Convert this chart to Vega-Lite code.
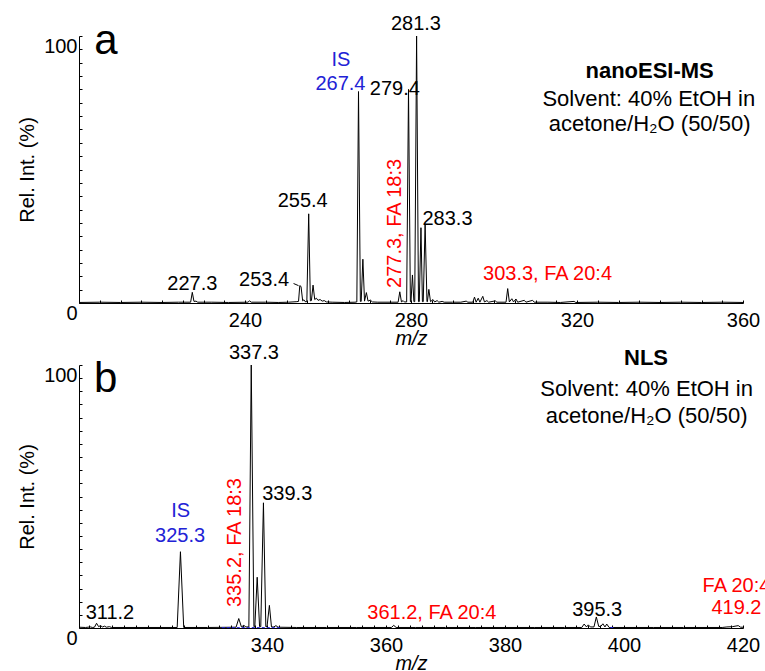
{
  "$schema": "https://vega.github.io/schema/vega-lite/v6.json",
  "background": "white",
  "padding": {"left": 17, "top": 13, "right": 0, "bottom": 0},
  "spacing": 62,
  "bounds": "flush",
  "config": {
    "view": {"stroke": null},
    "font": "Liberation Sans",
    "axis": {"domainColor": "black", "tickColor": "black", "labelColor": "black", "titleColor": "black", "labelFont": "Liberation Sans", "titleFont": "Liberation Sans", "labelFontSize": 20, "titleFontSize": 20, "titleFontWeight": "normal", "grid": false, "tickSize": -3, "domainWidth": 1, "tickWidth": 1, "labelOverlap": false, "labelFlush": false},
    "text": {"font": "Liberation Sans", "fontSize": 20}
  },
  "datasets": {
    "specA": [
      {"mz":200,"i":0.2},{"mz":205,"i":0.3},{"mz":210,"i":0.2},{"mz":215,"i":0.3},{"mz":220,"i":0.2},{"mz":224,"i":0.3},{"mz":226.9,"i":0.3},{"mz":227.3,"i":4},{"mz":227.7,"i":0.6},{"mz":228.2,"i":0.7},{"mz":228.6,"i":0.3},{"mz":232,"i":0.3},{"mz":236,"i":0.2},{"mz":240.7,"i":0.3},{"mz":241.1,"i":0.8},{"mz":241.5,"i":0.3},{"mz":245,"i":0.3},{"mz":248,"i":0.2},{"mz":250.5,"i":0.3},{"mz":252.5,"i":0.5},{"mz":252.9,"i":0.6},{"mz":253.2,"i":6.5},{"mz":253.5,"i":6.2},{"mz":253.9,"i":0.8},{"mz":254.2,"i":1.2},{"mz":254.5,"i":0.5},{"mz":254.9,"i":0.5},{"mz":255.35,"i":33.4},{"mz":255.75,"i":0.8},{"mz":256.0,"i":0.9},{"mz":256.4,"i":6.7},{"mz":256.8,"i":1.3},{"mz":257.2,"i":1.8},{"mz":257.6,"i":1.0},{"mz":258.1,"i":1.3},{"mz":258.6,"i":0.7},{"mz":259.1,"i":0.9},{"mz":259.6,"i":0.4},{"mz":261,"i":0.3},{"mz":264,"i":0.2},{"mz":266.5,"i":0.3},{"mz":266.95,"i":0.4},{"mz":267.35,"i":79.2},{"mz":267.8,"i":0.6},{"mz":268.0,"i":0.6},{"mz":268.4,"i":16.4},{"mz":268.8,"i":0.7},{"mz":269.25,"i":3.9},{"mz":269.65,"i":0.7},{"mz":270.2,"i":1.1},{"mz":270.7,"i":0.4},{"mz":272,"i":0.3},{"mz":275,"i":0.3},{"mz":276.9,"i":0.3},{"mz":277.3,"i":4.2},{"mz":277.7,"i":0.4},{"mz":278.1,"i":0.9},{"mz":278.4,"i":0.4},{"mz":278.95,"i":0.4},{"mz":279.4,"i":80},{"mz":279.85,"i":0.5},{"mz":280.0,"i":0.5},{"mz":280.35,"i":10.5},{"mz":280.7,"i":0.5},{"mz":280.9,"i":0.5},{"mz":281.35,"i":100},{"mz":281.8,"i":0.5},{"mz":282.0,"i":0.5},{"mz":282.4,"i":28.2},{"mz":282.75,"i":0.5},{"mz":282.95,"i":0.5},{"mz":283.4,"i":29.5},{"mz":283.85,"i":0.5},{"mz":283.95,"i":0.5},{"mz":284.3,"i":5.1},{"mz":284.7,"i":0.5},{"mz":285.3,"i":1.3},{"mz":285.7,"i":0.4},{"mz":286.3,"i":0.9},{"mz":286.7,"i":0.3},{"mz":287.5,"i":0.6},{"mz":288,"i":0.3},{"mz":290,"i":0.3},{"mz":292,"i":0.3},{"mz":293.3,"i":0.7},{"mz":293.7,"i":0.3},{"mz":294.9,"i":0.3},{"mz":295.3,"i":2.2},{"mz":295.7,"i":0.3},{"mz":296.2,"i":1.8},{"mz":296.6,"i":0.3},{"mz":297.3,"i":2.5},{"mz":297.7,"i":0.4},{"mz":298.3,"i":0.9},{"mz":298.7,"i":0.3},{"mz":300.3,"i":0.8},{"mz":300.7,"i":0.3},{"mz":302.9,"i":0.3},{"mz":303.3,"i":5.4},{"mz":303.7,"i":0.4},{"mz":304.3,"i":1.6},{"mz":304.7,"i":0.4},{"mz":305.3,"i":1.5},{"mz":305.7,"i":0.3},{"mz":307.3,"i":1.0},{"mz":307.7,"i":0.3},{"mz":309.3,"i":1.0},{"mz":309.7,"i":0.3},{"mz":313,"i":0.3},{"mz":316,"i":0.2},{"mz":319.3,"i":0.6},{"mz":319.7,"i":0.2},{"mz":325,"i":0.3},{"mz":330,"i":0.2},{"mz":335,"i":0.3},{"mz":340,"i":0.2},{"mz":345,"i":0.3},{"mz":350,"i":0.2},{"mz":355,"i":0.3},{"mz":360,"i":0.2}
    ],
    "specB": [
      {"mz":308.4,"i":0.3},{"mz":309.5,"i":0.2},{"mz":310.3,"i":0.4},{"mz":310.7,"i":0.2},{"mz":311.0,"i":0.3},{"mz":311.35,"i":1.8},{"mz":311.7,"i":0.5},{"mz":312.0,"i":0.9},{"mz":312.35,"i":0.4},{"mz":312.7,"i":0.7},{"mz":313.0,"i":0.3},{"mz":313.5,"i":0.5},{"mz":313.9,"i":0.2},{"mz":316,"i":0.2},{"mz":320,"i":0.2},{"mz":324.9,"i":0.2},{"mz":325.45,"i":29},{"mz":326.0,"i":0.2},{"mz":330,"i":0.2},{"mz":334.8,"i":0.3},{"mz":335.25,"i":3.6},{"mz":335.7,"i":0.4},{"mz":336.1,"i":1.0},{"mz":336.45,"i":0.4},{"mz":336.95,"i":0.4},{"mz":337.35,"i":100},{"mz":337.8,"i":0.5},{"mz":337.95,"i":0.5},{"mz":338.35,"i":19.3},{"mz":338.75,"i":0.5},{"mz":338.95,"i":0.5},{"mz":339.4,"i":47.6},{"mz":339.8,"i":0.5},{"mz":340.0,"i":0.5},{"mz":340.4,"i":8.6},{"mz":340.75,"i":0.4},{"mz":341.15,"i":0.4},{"mz":341.5,"i":0.9},{"mz":341.85,"i":0.3},{"mz":345,"i":0.2},{"mz":350,"i":0.2},{"mz":355,"i":0.2},{"mz":360.9,"i":0.2},{"mz":361.3,"i":1.0},{"mz":361.7,"i":0.2},{"mz":365,"i":0.2},{"mz":370,"i":0.2},{"mz":375,"i":0.2},{"mz":380,"i":0.2},{"mz":385,"i":0.2},{"mz":390,"i":0.2},{"mz":392.9,"i":0.2},{"mz":393.3,"i":1.5},{"mz":393.7,"i":0.4},{"mz":394.0,"i":1.2},{"mz":394.35,"i":0.4},{"mz":394.95,"i":0.4},{"mz":395.35,"i":4.2},{"mz":395.75,"i":0.6},{"mz":396.1,"i":0.6},{"mz":396.45,"i":1.6},{"mz":396.8,"i":0.4},{"mz":397.1,"i":1.5},{"mz":397.5,"i":0.2},{"mz":400,"i":0.2},{"mz":405,"i":0.2},{"mz":410,"i":0.2},{"mz":416.5,"i":0.2},{"mz":417.3,"i":0.4},{"mz":418.2,"i":0.5},{"mz":419.2,"i":0.9},{"mz":419.6,"i":0.3},{"mz":420,"i":0.3}
    ],
    "blueB": [
      {"mz":332.4,"i":0.15,"s":"a"},{"mz":342.5,"i":0.15,"s":"a"},{"mz":397.7,"i":0.2,"s":"b"},{"mz":398.2,"i":0.2,"s":"b"}
    ],
    "leadA": [
      {"mz":251.7,"i":7.3},{"mz":252.9,"i":6.5}
    ],
    "labA": [
      {"mz":227.3,"i":7.1,"t":"227.3","kind":"peak"},
      {"mz":244.6,"i":8.6,"t":"253.4","kind":"peak"},
      {"mz":253.9,"i":38.2,"t":"255.4","kind":"peak"},
      {"mz":263.1,"i":91,"t":"IS","kind":"IS"},
      {"mz":263.0,"i":82,"t":"267.4","kind":"IS"},
      {"mz":276.1,"i":80,"t":"279.4","kind":"peak"},
      {"mz":281.2,"i":104.5,"t":"281.3","kind":"peak"},
      {"mz":288.8,"i":31.4,"t":"283.3","kind":"peak"},
      {"mz":276.2,"i":29.8,"t":"277.3, FA 18:3","kind":"FAv"},
      {"mz":312.9,"i":10.8,"t":"303.3, FA 20:4","kind":"FA"},
      {"mz":337.5,"i":86.9,"t":"nanoESI-MS","kind":"head"},
      {"mz":337.3,"i":76.4,"t":"Solvent: 40% EtOH in","kind":"info"},
      {"mz":337.5,"i":67,"t":"acetone/H₂O (50/50)","kind":"info"},
      {"mz":206.5,"i":98,"t":"a","kind":"letter"}
    ],
    "labB": [
      {"mz":313.6,"i":5.7,"t":"311.2","kind":"peak"},
      {"mz":325.5,"i":44.5,"t":"IS","kind":"IS"},
      {"mz":325.4,"i":35,"t":"325.3","kind":"IS"},
      {"mz":334.6,"i":32.5,"t":"335.2, FA 18:3","kind":"FAv"},
      {"mz":337.8,"i":104.6,"t":"337.3","kind":"peak"},
      {"mz":343.4,"i":51,"t":"339.3","kind":"peak"},
      {"mz":367.7,"i":5.8,"t":"361.2, FA 20:4","kind":"FA"},
      {"mz":395.5,"i":6.7,"t":"395.3","kind":"peak"},
      {"mz":418.9,"i":16,"t":"FA 20:4","kind":"FA"},
      {"mz":418.9,"i":7.6,"t":"419.2","kind":"FA"},
      {"mz":403.7,"i":102.6,"t":"NLS","kind":"head"},
      {"mz":403.8,"i":91,"t":"Solvent: 40% EtOH in","kind":"info"},
      {"mz":403.8,"i":80.6,"t":"acetone/H₂O (50/50)","kind":"info"},
      {"mz":312.9,"i":94.7,"t":"b","kind":"letter"}
    ]
  },
  "vconcat": [
    {
      "width": 664,
      "height": 267,
      "encoding": {
        "x": {"field": "mz", "type": "quantitative", "scale": {"domain": [200, 360], "nice": false, "zero": false},
          "axis": {"title": "m/z", "titleFontStyle": "italic", "values": [200,205,210,215,220,225,230,235,240,245,250,255,260,265,270,275,280,285,290,295,300,305,310,315,320,325,330,335,340,345,350,355,360],
            "labelExpr": "datum.value % 40 == 0 && datum.value > 200 ? datum.label : ''", "labelPadding": 10, "titlePadding": -2}},
        "y": {"field": "i", "type": "quantitative", "scale": {"domain": [0, 100], "nice": false},
          "axis": {"title": "Rel. Int. (%)", "values": [0,5,10,15,20,25,30,35,40,45,50,55,60,65,70,75,80,85,90,95,100],
            "labelExpr": "datum.value == 0 || datum.value == 100 ? datum.label : ''", "labelBaseline": "top", "labelPadding": 5, "titlePadding": 6}}
      },
      "layer": [
        {"data": {"name": "specA"}, "mark": {"type": "line", "color": "black", "strokeWidth": 1}, "encoding": {}},
        {"data": {"name": "leadA"}, "mark": {"type": "line", "color": "black", "strokeWidth": 1}, "encoding": {}},
        {"data": {"name": "labA"}, "transform": [{"filter": "datum.kind == 'peak'"}], "mark": {"type": "text", "color": "black", "fontSize": 20}, "encoding": {"text": {"field": "t"}}},
        {"data": {"name": "labA"}, "transform": [{"filter": "datum.kind == 'IS'"}], "mark": {"type": "text", "color": "#2222d6", "fontSize": 20}, "encoding": {"text": {"field": "t"}}},
        {"data": {"name": "labA"}, "transform": [{"filter": "datum.kind == 'FA'"}], "mark": {"type": "text", "color": "#ff0000", "fontSize": 20}, "encoding": {"text": {"field": "t"}}},
        {"data": {"name": "labA"}, "transform": [{"filter": "datum.kind == 'FAv'"}], "mark": {"type": "text", "color": "#ff0000", "fontSize": 20, "angle": 270}, "encoding": {"text": {"field": "t"}}},
        {"data": {"name": "labA"}, "transform": [{"filter": "datum.kind == 'head'"}], "mark": {"type": "text", "color": "black", "fontSize": 22, "fontWeight": "bold"}, "encoding": {"text": {"field": "t"}}},
        {"data": {"name": "labA"}, "transform": [{"filter": "datum.kind == 'info'"}], "mark": {"type": "text", "color": "black", "fontSize": 22}, "encoding": {"text": {"field": "t"}}},
        {"data": {"name": "labA"}, "transform": [{"filter": "datum.kind == 'letter'"}], "mark": {"type": "text", "color": "black", "fontSize": 42}, "encoding": {"text": {"field": "t"}}}
      ]
    },
    {
      "width": 664,
      "height": 263,
      "encoding": {
        "x": {"field": "mz", "type": "quantitative", "scale": {"domain": [308.4, 420], "nice": false, "zero": false},
          "axis": {"title": "m/z", "titleFontStyle": "italic", "values": [310,312,314,316,318,320,322,324,326,328,330,332,334,336,338,340,342,344,346,348,350,352,354,356,358,360,362,364,366,368,370,372,374,376,378,380,382,384,386,388,390,392,394,396,398,400,402,404,406,408,410,412,414,416,418,420],
            "labelExpr": "datum.value % 20 == 0 && datum.value >= 340 ? datum.label : ''", "labelPadding": 10, "titlePadding": -2}},
        "y": {"field": "i", "type": "quantitative", "scale": {"domain": [0, 100], "nice": false},
          "axis": {"title": "Rel. Int. (%)", "values": [0,5,10,15,20,25,30,35,40,45,50,55,60,65,70,75,80,85,90,95,100],
            "labelExpr": "datum.value == 0 || datum.value == 100 ? datum.label : ''", "labelBaseline": "top", "labelPadding": 5, "titlePadding": 6}}
      },
      "layer": [
        {"data": {"name": "specB"}, "mark": {"type": "line", "color": "black", "strokeWidth": 1}, "encoding": {}},
        {"data": {"name": "blueB"}, "mark": {"type": "line", "color": "#2222d6", "strokeWidth": 1, "strokeDash": [3, 2]}, "encoding": {"detail": {"field": "s"}}},
        {"data": {"name": "labB"}, "transform": [{"filter": "datum.kind == 'peak'"}], "mark": {"type": "text", "color": "black", "fontSize": 20}, "encoding": {"text": {"field": "t"}}},
        {"data": {"name": "labB"}, "transform": [{"filter": "datum.kind == 'IS'"}], "mark": {"type": "text", "color": "#2222d6", "fontSize": 20}, "encoding": {"text": {"field": "t"}}},
        {"data": {"name": "labB"}, "transform": [{"filter": "datum.kind == 'FA'"}], "mark": {"type": "text", "color": "#ff0000", "fontSize": 20}, "encoding": {"text": {"field": "t"}}},
        {"data": {"name": "labB"}, "transform": [{"filter": "datum.kind == 'FAv'"}], "mark": {"type": "text", "color": "#ff0000", "fontSize": 20, "angle": 270}, "encoding": {"text": {"field": "t"}}},
        {"data": {"name": "labB"}, "transform": [{"filter": "datum.kind == 'head'"}], "mark": {"type": "text", "color": "black", "fontSize": 22, "fontWeight": "bold"}, "encoding": {"text": {"field": "t"}}},
        {"data": {"name": "labB"}, "transform": [{"filter": "datum.kind == 'info'"}], "mark": {"type": "text", "color": "black", "fontSize": 22}, "encoding": {"text": {"field": "t"}}},
        {"data": {"name": "labB"}, "transform": [{"filter": "datum.kind == 'letter'"}], "mark": {"type": "text", "color": "black", "fontSize": 42}, "encoding": {"text": {"field": "t"}}}
      ]
    }
  ]
}
